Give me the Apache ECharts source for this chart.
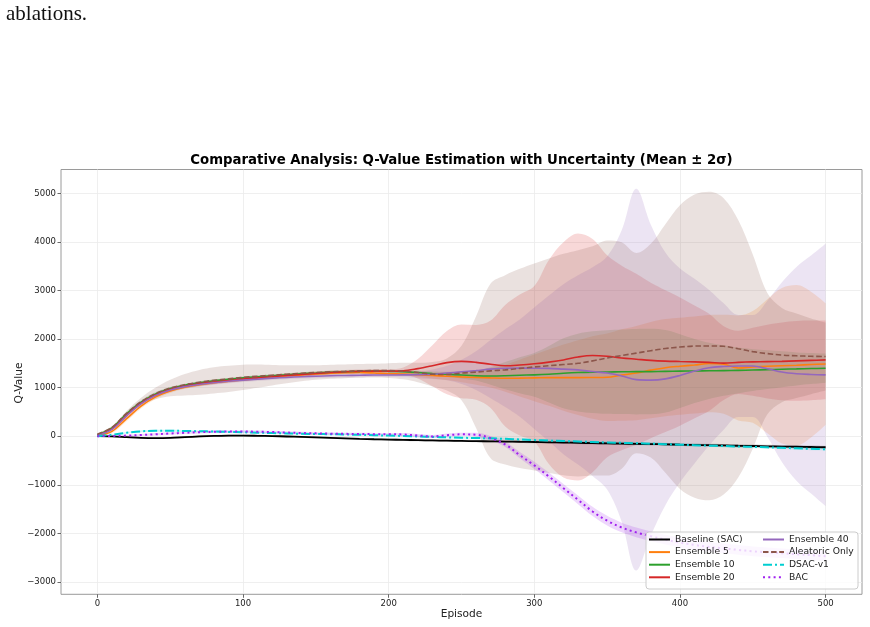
<!DOCTYPE html>
<html>
<head>
<meta charset="utf-8">
<script src="https://cdn.jsdelivr.net/npm/echarts@6/dist/echarts.min.js"></script>
<style>
  html, body { margin: 0; padding: 0; background: #ffffff; }
  #chart { width: 870px; height: 627px; }
</style>
</head>
<body>
<div id="chart"></div>
<script>
const episodes = [
  0, 10, 20, 30, 40, 50, 60, 70, 80, 90,
  100, 110, 120, 130, 140, 150, 160, 170, 180, 190,
  200, 210, 220, 230, 240, 250, 260, 270, 280, 290,
  300, 310, 320, 330, 340, 350, 360, 370, 380, 390,
  400, 410, 420, 430, 440, 450, 460, 470, 480, 490,
  500
];

// mean Q-value per method, and the half width of the band (2 sigma)
const baselineMean = [
  0, -5, -20, -35, -40, -35, -20, -5, 5, 10,
  12, 8, 2, -6, -15, -25, -35, -45, -55, -63,
  -70, -76, -82, -88, -93, -98, -102, -106, -110, -115,
  -120, -126, -132, -137, -143, -148, -153, -158, -163, -168,
  -174, -180, -186, -191, -197, -202, -208, -213, -218, -223,
  -228
];
const baselineBand = [
  5, 10, 15, 18, 20, 20, 20, 20, 20, 20,
  20, 20, 20, 20, 20, 20, 20, 20, 20, 20,
  20, 22, 22, 22, 24, 24, 24, 25, 25, 25,
  26, 26, 26, 27, 27, 27, 28, 28, 28, 28,
  29, 29, 29, 30, 30, 30, 30, 30, 30, 30,
  30
];

const ens5Mean = [
  10, 100, 360, 620, 810, 930, 1010, 1060, 1100, 1130,
  1160, 1190, 1215, 1240, 1260, 1280, 1295, 1305, 1310, 1300,
  1285, 1280, 1265, 1250, 1235, 1220, 1210, 1200, 1193, 1195,
  1200, 1205, 1205, 1205, 1208, 1213, 1260, 1300, 1360, 1410,
  1440, 1465, 1495, 1480, 1405, 1425, 1440, 1450, 1460, 1475,
  1487
];
const ens5Band = [
  20, 40, 50, 50, 45, 40, 35, 30, 30, 30,
  30, 30, 30, 30, 30, 30, 30, 30, 30, 30,
  30, 35, 45, 60, 80, 110, 150, 200, 280, 380,
  480, 580, 680, 770, 850, 900, 940, 970, 990, 1000,
  1000, 1000, 1000, 1020, 1080, 1150, 1380, 1600, 1650, 1500,
  1250
];

const ens10Mean = [
  30, 170, 460, 700, 870, 980, 1050, 1100, 1140, 1170,
  1200, 1225, 1245, 1265, 1285, 1300, 1315, 1325, 1335, 1340,
  1335, 1325, 1310, 1290, 1275, 1260, 1245, 1240, 1245, 1255,
  1262, 1275, 1295, 1310, 1318, 1322, 1325, 1328, 1330, 1335,
  1340, 1343, 1346, 1350, 1355, 1362, 1370, 1378, 1385, 1392,
  1399
];
const ens10Band = [
  20, 30, 40, 40, 40, 35, 30, 30, 30, 30,
  30, 30, 30, 30, 30, 30, 30, 30, 30, 30,
  30, 30, 35, 40, 50, 70, 100, 180, 280, 370,
  450, 580, 720, 800, 840, 860, 870, 880, 880, 850,
  760, 660, 580, 520, 470, 430, 400, 370, 340, 320,
  300
];

const ens20Mean = [
  20, 150, 430, 680, 850, 960, 1030, 1080, 1115, 1145,
  1175, 1200, 1225, 1250, 1270, 1290, 1310, 1325, 1335, 1340,
  1340, 1345, 1390, 1450, 1515, 1540, 1520, 1480, 1450, 1465,
  1490, 1525, 1570, 1630, 1660, 1645, 1610, 1585, 1560, 1545,
  1537, 1530, 1520, 1505, 1520, 1530, 1535, 1540, 1550, 1560,
  1570
];
const ens20Band = [
  20, 30, 40, 40, 40, 40, 40, 40, 40, 40,
  40, 40, 40, 40, 40, 40, 40, 40, 40, 40,
  40, 70, 200, 420, 650, 760, 770, 900, 1250, 1450,
  1600, 2100, 2420, 2540, 2400, 2080, 1900, 1760, 1600, 1460,
  1320, 1160, 1000, 760, 650, 700, 760, 800, 820, 820,
  810
];

const ens40Mean = [
  20, 140, 420, 670, 840, 950, 1020, 1065, 1100, 1130,
  1155, 1175, 1195, 1210, 1225, 1235, 1245, 1250, 1255, 1260,
  1260, 1262, 1265, 1275, 1300, 1325, 1350, 1380, 1399, 1402,
  1400, 1395, 1380, 1365, 1330, 1300, 1240, 1165, 1155, 1180,
  1250, 1340, 1410, 1435, 1445, 1445, 1390, 1320, 1285, 1270,
  1262
];
const ens40Band = [
  20, 30, 40, 40, 40, 40, 40, 40, 40, 40,
  40, 40, 40, 40, 40, 40, 40, 40, 40, 40,
  40, 50, 70, 100, 150, 250, 400, 600, 800, 1000,
  1250, 1500, 1750, 1950, 2150, 2400, 3000, 3930, 3200, 2600,
  2200, 1900, 1600, 1300, 1050, 1050, 1400, 1850, 2200, 2450,
  2700
];

const aleatoricMean = [
  40, 180, 470, 710, 880, 990, 1060, 1110, 1150, 1180,
  1210, 1235, 1255, 1275, 1295, 1310, 1325, 1335, 1345, 1350,
  1350, 1340, 1310, 1275, 1270, 1300, 1320, 1345, 1365, 1395,
  1425, 1450, 1475, 1500, 1550, 1610, 1660, 1710, 1760, 1805,
  1835, 1855, 1858, 1850, 1800, 1740, 1700, 1670, 1655, 1645,
  1640
];
const aleatoricBand = [
  20, 30, 50, 80, 120, 170, 220, 255, 270, 270,
  260, 240, 210, 185, 165, 150, 145, 140, 140, 140,
  150, 170, 200, 250, 330, 560, 1150, 1800, 1950, 2050,
  2130, 2210, 2280, 2330, 2360, 2420, 2330, 2060, 2200, 2560,
  2920, 3120, 3175, 3050, 2650, 2000, 1250, 970, 870, 780,
  700
];

const dsacMean = [
  0, 30, 70, 100, 110, 112, 108, 102, 96, 88,
  80, 72, 64, 57, 50, 45, 40, 35, 28, 20,
  12, 4, -5, -15, -25, -33, -38, -45, -55, -68,
  -80, -90, -100, -110, -120, -130, -138, -145, -155, -165,
  -175, -185, -195, -203, -212, -220, -230, -240, -250, -260,
  -268
];
const dsacBand = [
  5, 10, 15, 20, 20, 20, 20, 20, 20, 20,
  20, 20, 20, 20, 20, 20, 20, 20, 20, 20,
  20, 20, 20, 22, 22, 22, 24, 24, 24, 25,
  25, 25, 26, 26, 26, 27, 27, 27, 28, 28,
  28, 29, 29, 29, 30, 30, 30, 30, 30, 30,
  30
];

const bacMean = [
  0, 5, 12, 25, 40, 55, 70, 82, 90, 95,
  96, 92, 85, 75, 65, 58, 52, 48, 45, 42,
  40, 35, 15, -5, 20, 38, 30, -40, -170, -390,
  -600, -830, -1070, -1310, -1550, -1740, -1880, -1980, -2060, -2130,
  -2190, -2240, -2280, -2310, -2340, -2370, -2390, -2410, -2430, -2450,
  -2470
];
const bacBand = [
  5, 10, 15, 20, 25, 25, 25, 25, 25, 25,
  25, 25, 25, 25, 25, 25, 25, 25, 25, 25,
  25, 30, 30, 30, 35, 35, 40, 45, 55, 65,
  75, 80, 85, 90, 95, 100, 100, 100, 100, 100,
  100, 100, 100, 100, 100, 100, 100, 100, 100, 100,
  100
];

const legendLeft = ['Baseline (SAC)', 'Ensemble 5', 'Ensemble 10', 'Ensemble 20'];
const legendRight = ['Ensemble 40', 'Aleatoric Only', 'DSAC-v1', 'BAC'];

const xTicks = { min: 0, max: 500, step: 100 };
const yTicks = { min: -3000, max: 5000, step: 1000 };

const methods = [
  { name: 'Baseline (SAC)', color: '#000000', mean: baselineMean, band: baselineBand, width: 1.8, dash: 'solid' },
  { name: 'Ensemble 5', color: '#ff7f0e', mean: ens5Mean, band: ens5Band, width: 1.6, dash: 'solid' },
  { name: 'Ensemble 10', color: '#2ca02c', mean: ens10Mean, band: ens10Band, width: 1.6, dash: 'solid' },
  { name: 'Ensemble 20', color: '#d62728', mean: ens20Mean, band: ens20Band, width: 1.6, dash: 'solid' },
  { name: 'Ensemble 40', color: '#9467bd', mean: ens40Mean, band: ens40Band, width: 1.6, dash: 'solid' },
  { name: 'Aleatoric Only', color: '#8c564b', mean: aleatoricMean, band: aleatoricBand, width: 1.6, dash: [5.5, 2.6] },
  { name: 'DSAC-v1', color: '#00ced1', mean: dsacMean, band: dsacBand, width: 2, dash: [9, 3, 2, 3] },
  { name: 'BAC', color: '#a020f0', mean: bacMean, band: bacBand, width: 2, dash: [2, 3.3] }
];

const FONT = '"DejaVu Sans", Verdana, sans-serif';
const SMOOTH = 0.35;

// plot box in pixels and the data range it shows
const plotLeft = 61;
const plotTop = 169.5;
const plotWidth = 801;
const plotHeight = 424.8;
const xRange = [-25, 525];
const yRange = [-3255, 5490];

// value first, episode second: the stack then runs on the value dimension
function pairs(values) {
  return episodes.map((x, i) => [values[i], x]);
}

function xPx(v) {
  return plotLeft + (v - xRange[0]) / (xRange[1] - xRange[0]) * plotWidth;
}

function yPx(v) {
  return plotTop + (yRange[1] - v) / (yRange[1] - yRange[0]) * plotHeight;
}

function minusLabel(v) {
  return v < 0 ? '\u2212' + Math.abs(v) : String(v);
}

const bandSeries = [];
const lineSeries = [];
methods.forEach((m, i) => {
  const lower = m.mean.map((v, k) => v - m.band[k]);
  const spread = m.band.map((v) => 2 * v);
  bandSeries.push({
    name: m.name + ' lower',
    type: 'line',
    stack: 'band' + i,
    stackStrategy: 'all',
    data: pairs(lower),
    symbol: 'none',
    smooth: SMOOTH,
    silent: true,
    lineStyle: { opacity: 0 },
    z: 1
  });
  bandSeries.push({
    name: m.name + ' band',
    type: 'line',
    stack: 'band' + i,
    stackStrategy: 'all',
    data: pairs(spread),
    symbol: 'none',
    smooth: SMOOTH,
    silent: true,
    lineStyle: { opacity: 0 },
    areaStyle: { color: m.color, opacity: 0.18 },
    z: 1
  });
  lineSeries.push({
    name: m.name,
    type: 'line',
    data: pairs(m.mean),
    symbol: 'none',
    smooth: SMOOTH,
    color: m.color,
    lineStyle: { color: m.color, width: m.width, type: m.dash },
    z: 3
  });
});

const legendBase = {
  orient: 'vertical',
  top: 535,
  padding: 0,
  itemWidth: 21,
  itemHeight: 10,
  itemGap: 3.6,
  selectedMode: false,
  z: 20,
  itemStyle: { opacity: 0 },
  textStyle: { fontFamily: FONT, fontSize: 9.2, color: '#222' }
};

const chart = echarts.init(document.getElementById('chart'), null, { renderer: 'canvas' });
chart.setOption({
  animation: false,
  backgroundColor: '#ffffff',
  grid: [
    { left: plotLeft, top: plotTop, width: plotWidth, height: plotHeight, show: true, borderColor: '#9a9a9a', borderWidth: 1, containLabel: false },
    { left: xPx(xTicks.min), top: plotTop, width: xPx(xTicks.max) - xPx(xTicks.min), height: plotHeight, containLabel: false },
    { left: plotLeft, top: yPx(yTicks.max), width: plotWidth, height: yPx(yTicks.min) - yPx(yTicks.max), containLabel: false }
  ],
  xAxis: [
    { gridIndex: 0, type: 'value', min: xRange[0], max: xRange[1], show: false },
    {
      gridIndex: 1, type: 'value', min: xTicks.min, max: xTicks.max, interval: xTicks.step,
      axisLine: { show: false },
      axisTick: { show: true, length: 3.5, lineStyle: { color: '#444', width: 0.8 } },
      axisLabel: { fontFamily: FONT, fontSize: 8.5, color: '#222', margin: 5, formatter: minusLabel },
      splitLine: { show: true, lineStyle: { color: '#ebebeb', width: 0.8 } }
    },
    { gridIndex: 2, type: 'value', min: 0, max: 1, show: false }
  ],
  yAxis: [
    { gridIndex: 0, type: 'value', min: yRange[0], max: yRange[1], show: false },
    { gridIndex: 1, type: 'value', min: 0, max: 1, show: false },
    {
      gridIndex: 2, type: 'value', min: yTicks.min, max: yTicks.max, interval: yTicks.step,
      axisLine: { show: false },
      axisTick: { show: true, length: 3.5, lineStyle: { color: '#444', width: 0.8 } },
      axisLabel: { fontFamily: FONT, fontSize: 8.5, color: '#222', margin: 5, formatter: minusLabel },
      splitLine: { show: true, lineStyle: { color: '#ebebeb', width: 0.8 } }
    }
  ],
  legend: [
    Object.assign({}, legendBase, { left: 648, data: legendLeft }),
    Object.assign({}, legendBase, { left: 762, data: legendRight })
  ],
  graphic: [
    {
      type: 'text', left: 6, top: 4,
      style: { text: 'ablations.', font: '21px "Liberation Serif", "DejaVu Serif", serif', fill: '#111' }
    },
    {
      type: 'text', x: xPx(250), y: 161,
      style: { text: 'Comparative Analysis: Q-Value Estimation with Uncertainty (Mean \u00b1 2\u03c3)', font: 'bold 13.3px ' + FONT, fill: '#000', align: 'center', verticalAlign: 'middle' }
    },
    {
      type: 'text', x: xPx(250), y: 614,
      style: { text: 'Episode', font: '10.6px ' + FONT, fill: '#222', align: 'center', verticalAlign: 'middle' }
    },
    {
      type: 'text', x: 19, y: 383, rotation: Math.PI / 2,
      style: { text: 'Q-Value', font: '10.6px ' + FONT, fill: '#222', align: 'center', verticalAlign: 'middle' }
    },
    {
      type: 'rect', z: 10,
      shape: { x: 646, y: 532, width: 212, height: 57, r: 3 },
      style: { fill: 'rgba(255,255,255,0.8)', stroke: '#cccccc', lineWidth: 1 }
    }
  ],
  series: bandSeries.concat(lineSeries).map((s) => Object.assign({
    xAxisIndex: 0,
    yAxisIndex: 0,
    encode: { x: 1, y: 0 }
  }, s))
});
</script>
</body>
</html>
